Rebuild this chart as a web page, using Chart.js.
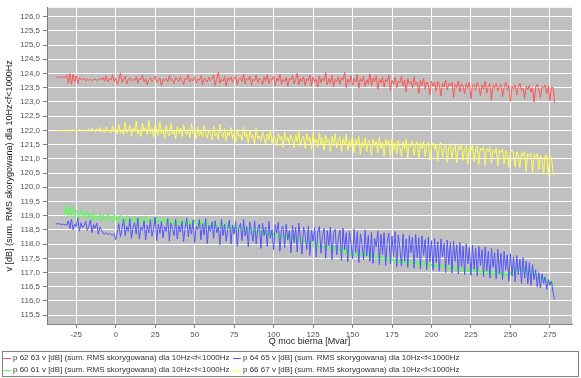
<!DOCTYPE html>
<html>
<head>
    <title>Q moc bierna</title>
    <script src="https://cdn.jsdelivr.net/npm/chart.js"></script>
    <style>
        body { margin: 0; background: #ffffff; }
    </style>
</head>
<body>
    <canvas id="Chart" width="581" height="378"></canvas>
    <script>
        // Q moc bierna [Mvar] - wspolna os X dla wszystkich serii
        const xQ = [
            -38, -37, -36, -35, -34, -33, -32, -31, -30, -29,
            -28, -27, -26, -25, -24, -23, -22, -21, -20, -19,
            -18, -17, -16, -15, -14, -13, -12, -11, -10, -9,
            -8, -7, -6, -5, -4, -3, -2, -1, 0, 1,
            2, 3, 4, 5, 6, 7, 8, 9, 10, 11,
            12, 13, 14, 15, 16, 17, 18, 19, 20, 21,
            22, 23, 24, 25, 26, 27, 28, 29, 30, 31,
            32, 33, 34, 35, 36, 37, 38, 39, 40, 41,
            42, 43, 44, 45, 46, 47, 48, 49, 50, 51,
            52, 53, 54, 55, 56, 57, 58, 59, 60, 61,
            62, 63, 64, 65, 66, 67, 68, 69, 70, 71,
            72, 73, 74, 75, 76, 77, 78, 79, 80, 81,
            82, 83, 84, 85, 86, 87, 88, 89, 90, 91,
            92, 93, 94, 95, 96, 97, 98, 99, 100, 101,
            102, 103, 104, 105, 106, 107, 108, 109, 110, 111,
            112, 113, 114, 115, 116, 117, 118, 119, 120, 121,
            122, 123, 124, 125, 126, 127, 128, 129, 130, 131,
            132, 133, 134, 135, 136, 137, 138, 139, 140, 141,
            142, 143, 144, 145, 146, 147, 148, 149, 150, 151,
            152, 153, 154, 155, 156, 157, 158, 159, 160, 161,
            162, 163, 164, 165, 166, 167, 168, 169, 170, 171,
            172, 173, 174, 175, 176, 177, 178, 179, 180, 181,
            182, 183, 184, 185, 186, 187, 188, 189, 190, 191,
            192, 193, 194, 195, 196, 197, 198, 199, 200, 201,
            202, 203, 204, 205, 206, 207, 208, 209, 210, 211,
            212, 213, 214, 215, 216, 217, 218, 219, 220, 221,
            222, 223, 224, 225, 226, 227, 228, 229, 230, 231,
            232, 233, 234, 235, 236, 237, 238, 239, 240, 241,
            242, 243, 244, 245, 246, 247, 248, 249, 250, 251,
            252, 253, 254, 255, 256, 257, 258, 259, 260, 261,
            262, 263, 264, 265, 266, 267, 268, 269, 270, 271,
            272, 273, 274, 275, 276, 277, 278
        ];

        // p 62 63
        const vRed = [
            123.87, 123.87, 123.87, 123.87, 123.88, 123.87, 123.86, 123.95, 123.66, 124.00,
            123.62, 123.97, 123.70, 123.92, 123.64, 123.86, 123.80, 123.77, 123.83, 123.74,
            123.79, 123.76, 123.80, 123.75, 123.78, 123.80, 123.76, 123.79, 123.83, 123.77,
            123.86, 123.73, 123.92, 123.70, 123.81, 123.77, 123.96, 123.71, 123.83, 123.62,
            123.76, 124.02, 123.69, 123.81, 123.90, 123.63, 123.79, 123.86, 123.73, 123.80,
            123.74, 123.88, 123.66, 123.83, 123.78, 123.95, 123.70, 123.82, 123.60, 123.79,
            123.85, 123.72, 123.80, 123.91, 123.68, 123.77, 123.84, 123.58, 123.80, 123.74,
            123.82, 123.70, 123.93, 123.75, 123.79, 123.65, 123.86, 123.78, 123.72, 123.88,
            123.76, 123.62, 123.84, 123.79, 123.97, 123.70, 123.81, 123.74, 123.89, 123.66,
            123.80, 123.76, 123.92, 123.60, 123.83, 123.78, 123.70, 123.87, 123.74, 123.81,
            123.95, 123.58, 123.82, 124.04, 123.66, 123.80, 123.73, 123.90, 123.55, 123.84,
            123.76, 123.88, 123.69, 123.81, 123.93, 123.62, 123.79, 123.85, 123.71, 123.98,
            123.64, 123.83, 123.77, 123.90, 123.58, 123.80, 123.74, 123.94, 123.67, 123.82,
            123.78, 123.60, 123.88, 123.72, 123.96, 123.65, 123.81, 123.76, 123.90, 123.57,
            123.84, 123.73, 123.98, 123.62, 123.80, 123.70, 123.87, 123.55, 123.82, 123.77,
            123.92, 123.64, 123.79, 124.01, 123.60, 123.83, 123.72, 123.89, 123.58, 123.81,
            123.75, 123.94, 123.56, 123.86, 123.70, 123.80, 123.52, 123.91, 123.68, 123.84,
            123.74, 124.03, 123.60, 123.82, 123.66, 123.93, 123.54, 123.79, 123.71, 123.88,
            123.62, 123.85, 123.76, 124.05, 123.50, 123.80, 123.68, 123.92, 123.58, 123.83,
            123.70, 123.96, 123.48, 123.81, 123.73, 123.90, 123.55, 123.78, 123.64, 123.99,
            123.57, 123.84, 123.70, 123.92, 123.45, 123.79, 123.66, 123.88, 123.52, 123.80,
            123.72, 123.94, 123.40, 123.76, 123.62, 123.86, 123.50, 123.74, 123.68, 123.90,
            123.55, 123.78, 123.35, 123.82, 123.64, 123.72, 123.48, 123.88, 123.60, 123.70,
            123.30, 123.76, 123.58, 123.84, 123.45, 123.70, 123.62, 123.25, 123.74, 123.55,
            123.68, 123.38, 123.72, 123.60, 123.20, 123.66, 123.52, 123.78, 123.42, 123.65,
            123.58, 123.70, 123.15, 123.62, 123.50, 123.74, 123.35, 123.64, 123.55, 123.28,
            123.66, 123.48, 123.70, 123.10, 123.58, 123.62, 123.40, 123.68, 123.52, 123.22,
            123.60, 123.45, 123.72, 123.30, 123.56, 123.64, 123.05, 123.58, 123.48, 123.66,
            123.38, 123.55, 123.62, 123.18, 123.50, 123.70, 123.42, 123.58, 123.02, 123.54,
            123.46, 123.60, 123.25, 123.52, 123.66, 123.40, 123.48, 123.12, 123.56, 123.44,
            123.58, 123.35, 123.50, 123.00, 123.52, 123.62, 123.45, 123.15, 123.55, 123.48,
            123.60, 123.30, 123.55, 123.05, 123.52, 123.50, 122.95
        ];

        // p 64 65
        const vBlue = [
            118.72, 118.71, 118.72, 118.70, 118.69, 118.70, 118.68, 118.66, 118.82, 118.55,
            118.88, 118.50, 118.70, 118.62, 118.92, 118.45, 118.75, 118.58, 118.66, 118.80,
            118.48, 118.62, 118.85, 118.40, 118.68, 118.55, 118.74, 118.35, 118.60, 118.50,
            118.38, 118.36, 118.40, 118.35, 118.37, 118.34, 118.32, 118.36, 118.15, 118.40,
            118.72, 118.25, 118.55, 118.88, 118.30, 118.62, 118.45, 118.90, 118.20, 118.58,
            118.75, 118.35, 118.92, 118.18, 118.60, 118.48, 118.82, 118.15, 118.66, 118.40,
            118.86, 118.28, 118.55, 118.95, 118.12, 118.70, 118.38, 118.80, 118.22, 118.62,
            118.45, 118.90, 118.10, 118.74, 118.52, 118.30, 118.88, 118.18, 118.65, 118.42,
            118.80, 118.08, 118.58, 118.92, 118.25, 118.70, 118.35, 118.84, 118.05, 118.62,
            118.50, 118.86, 118.15, 118.72, 118.32, 118.90, 118.02, 118.66, 118.45, 118.78,
            118.20, 118.82, 118.40, 118.60, 117.98, 118.88, 118.30, 118.70, 118.10, 118.55,
            118.84, 118.00, 118.66, 118.35, 118.80, 117.95, 118.58, 118.72, 118.12, 118.86,
            118.28, 118.62, 117.90, 118.78, 118.44, 118.10, 118.82, 118.00, 118.56, 118.70,
            117.85, 118.74, 118.30, 118.60, 117.92, 118.80, 118.20, 118.52, 117.80, 118.68,
            118.40, 118.76, 117.75, 118.55, 118.62, 117.88, 118.70, 118.15, 118.48, 117.70,
            118.66, 118.05, 118.58, 117.72, 118.74, 118.22, 117.65, 118.60, 118.35, 117.80,
            118.64, 117.60, 118.50, 118.10, 118.58, 117.55, 118.42, 118.62, 117.68, 118.30,
            118.55, 117.50, 118.48, 117.95, 118.60, 117.45, 118.38, 118.52, 117.62, 118.20,
            118.50, 117.42, 118.56, 117.80, 118.40, 117.38, 118.46, 118.05, 117.48, 118.52,
            117.70, 118.44, 117.35, 118.36, 118.00, 117.45, 118.50, 117.58, 118.30, 117.40,
            118.42, 117.32, 118.20, 117.90, 118.46, 117.28, 118.34, 117.62, 118.40, 117.25,
            118.10, 118.38, 117.30, 118.28, 117.55, 118.44, 117.20, 118.32, 117.85, 117.22,
            118.36, 117.40, 118.18, 117.18, 118.30, 117.70, 118.25, 117.15, 118.34, 117.50,
            118.22, 117.12, 118.28, 117.60, 118.16, 117.10, 118.24, 117.38, 118.12, 117.08,
            118.20, 117.35, 118.08, 117.05, 118.18, 117.55, 118.02, 117.00, 118.14, 117.28,
            118.05, 116.98, 118.10, 117.40, 117.98, 116.95, 118.06, 117.20, 117.92, 116.92,
            118.00, 117.30, 117.88, 116.90, 117.96, 117.12, 117.85, 116.88, 117.92, 117.25,
            117.80, 116.85, 117.90, 117.05, 117.76, 116.80, 117.86, 117.18, 117.70, 116.78,
            117.82, 116.95, 117.68, 116.75, 117.74, 117.10, 117.62, 116.70, 117.66, 116.88,
            117.55, 116.68, 117.60, 116.92, 117.48, 116.62, 117.52, 116.80, 117.40, 116.60,
            117.35, 116.55, 117.28, 116.75, 117.10, 116.50, 117.00, 116.45, 116.95, 116.62,
            116.85, 116.40, 116.75, 116.55, 116.70, 116.30, 116.05
        ];

        // p 60 61
        const vGreen = [
            null, null, null, null, null, 119.30, 119.05, 119.40, 118.95, 119.25,
            119.00, 119.32, 118.92, 119.18, 119.05, 118.88, 119.22, 118.98, 119.10, 118.85,
            119.15, 118.95, 119.05, 118.82, 119.12, 118.90, 119.00, 118.86, 119.08, 118.80,
            119.02, 118.90, 118.78, 119.06, 118.88, 118.98, 118.75, 119.04, 118.85, 118.95,
            118.76, 119.02, 118.84, 118.92, 118.72, 119.00, 118.86, 118.78, 118.96, 118.74,
            118.98, 118.82, 118.90, 118.70, 118.96, 118.84, 118.76, 119.00, 118.72, 118.88,
            118.80, 118.94, 118.70, 118.86, 118.98, 118.74, 118.90, 118.68, 118.92, 118.78,
            118.88, 118.66, 118.94, 118.76, 118.84, 118.64, 118.90, 118.74, 118.82, 118.62,
            118.92, 118.72, 118.80, 118.60, 118.88, 118.70, 118.78, 118.58, 118.86, 118.68,
            118.76, 118.56, 118.84, 118.66, 118.72, 118.54, 118.82, 118.62, 118.70, 118.52,
            118.80, 118.60, 118.68, 118.50, 118.76, 118.58, 118.66, 118.48, 118.74, 118.55,
            118.64, 118.46, 118.70, 118.52, 118.60, 118.42, 118.68, 118.50, 118.56, 118.40,
            118.64, 118.46, 118.54, 118.36, 118.60, 118.44, 118.50, 118.32, 118.56, 118.40,
            118.46, 118.28, 118.52, 118.36, 118.42, 118.24, 118.48, 118.32, 118.38, 118.20,
            118.42, 118.26, 118.34, 118.16, 118.38, 118.22, 118.30, 118.12, 118.34, 118.18,
            118.26, 118.08, 118.30, 118.12, 118.20, 118.02, 118.24, 118.06, 118.14, 117.96,
            118.18, 118.00, 118.08, 117.90, 118.12, 117.94, 118.02, 117.84, 118.06, 117.88,
            117.96, 117.78, 118.00, 117.82, 117.92, 117.74, 117.94, 117.76, 117.86, 117.70,
            117.90, 117.72, 117.82, 117.64, 117.86, 117.68, 117.76, 117.60, 117.80, 117.62,
            117.72, 117.56, 117.76, 117.58, 117.68, 117.52, 117.70, 117.54, 117.64, 117.48,
            117.66, 117.50, 117.60, 117.44, 117.62, 117.46, 117.56, 117.42, 117.58, 117.40,
            117.54, 117.38, 117.56, 117.40, 117.50, 117.36, 117.52, 117.34, 117.46, 117.32,
            117.48, 117.32, 117.44, 117.30, 117.46, 117.28, 117.40, 117.26, 117.42, 117.24,
            117.38, 117.22, 117.40, 117.24, 117.34, 117.20, 117.36, 117.18, 117.30, 117.16,
            117.32, 117.16, 117.28, 117.12, 117.30, 117.14, 117.24, 117.10, 117.26, 117.08,
            117.22, 117.08, 117.24, 117.06, 117.18, 117.04, 117.20, 117.02, 117.16, 117.00,
            117.18, 117.02, 117.14, 116.98, 117.16, 117.00, 117.10, 116.96, 117.12, 116.94,
            117.08, 116.94, 117.10, 116.92, 117.06, 116.90, 117.08, 116.92, 117.04, 116.88,
            117.06, 116.90, 117.02, 116.88, 117.05, 116.86, 117.00, 116.84, 117.02, 116.86,
            117.10, 116.92, 117.22, 116.96, 117.28, 117.00, 117.24, 116.94, 117.18, 116.90,
            117.14, 116.88, 117.06, 116.84, 117.00, 116.80, 116.94, 116.76, 116.90, 116.72,
            116.86, 116.68, 116.80, 116.62, 116.70, 116.58, 116.50
        ];

        // p 66 67
        const vYellow = [
            121.98, 122.00, 121.99, 122.01, 121.98, 122.00, 122.02, 121.99, 122.01, 121.97,
            122.00, 122.03, 121.98, 122.01, 121.99, 122.04, 121.97, 122.00, 122.02, 121.98,
            122.00, 122.05, 121.96, 122.08, 121.99, 121.95, 122.06, 121.98, 122.10, 121.94,
            122.04, 121.92, 122.12, 121.96, 122.02, 121.90, 122.15, 121.95, 122.05, 121.88,
            122.20, 121.90, 122.05, 121.85, 122.28, 121.92, 122.00, 122.18, 121.80, 122.08,
            121.94, 122.32, 121.86, 122.02, 121.78, 122.25, 121.96, 122.10, 121.84, 122.35,
            121.90, 122.06, 121.75, 122.22, 121.98, 121.82, 122.30, 121.88, 122.04, 121.72,
            122.18, 121.92, 121.80, 122.26, 121.86, 122.00, 121.70, 122.14, 121.90, 122.08,
            121.78, 122.20, 121.95, 121.84, 122.05, 121.74, 122.24, 121.88, 121.96, 121.70,
            122.12, 121.82, 121.98, 121.76, 122.18, 121.85, 121.72, 122.02, 121.88, 121.66,
            122.15, 121.80, 121.92, 121.68, 122.22, 121.84, 121.75, 122.06, 121.62, 121.95,
            121.82, 122.10, 121.70, 121.90, 121.58, 122.04, 121.78, 121.86, 121.64, 122.12,
            121.76, 121.92, 121.55, 122.00, 121.72, 121.84, 121.50, 122.08, 121.70, 121.80,
            121.62, 121.96, 121.74, 121.48, 121.88, 121.66, 122.02, 121.55, 121.82, 121.70,
            121.45, 121.90, 121.68, 121.80, 121.40, 121.94, 121.62, 121.76, 121.52, 121.86,
            121.66, 121.38, 121.84, 121.58, 121.98, 121.44, 121.72, 121.80, 121.35, 121.90,
            121.60, 121.76, 121.32, 121.88, 121.55, 121.70, 121.40, 121.92, 121.48, 121.74,
            121.30, 121.84, 121.56, 121.68, 121.25, 121.80, 121.45, 121.88, 121.38, 121.66,
            121.78, 121.22, 121.70, 121.50, 121.86, 121.28, 121.64, 121.42, 121.82, 121.20,
            121.68, 121.48, 121.78, 121.15, 121.60, 121.40, 121.74, 121.25, 121.66, 121.52,
            121.12, 121.70, 121.44, 121.62, 121.20, 121.76, 121.36, 121.58, 121.10, 121.68,
            121.46, 121.64, 121.05, 121.72, 121.30, 121.56, 121.18, 121.66, 121.40, 121.08,
            121.60, 121.34, 121.68, 121.02, 121.54, 121.42, 121.64, 121.12, 121.50, 121.60,
            121.00, 121.56, 121.36, 121.62, 121.08, 121.48, 121.58, 120.95, 121.44, 121.55,
            121.30, 121.52, 120.92, 121.46, 121.58, 121.05, 121.40, 121.50, 120.88, 121.42,
            121.54, 121.00, 121.38, 121.48, 120.85, 121.44, 121.32, 121.52, 120.95, 121.36,
            121.46, 120.82, 121.40, 121.28, 121.50, 120.90, 121.34, 121.44, 120.80, 121.38,
            121.30, 121.42, 120.78, 121.36, 121.25, 121.40, 120.85, 121.32, 121.20, 121.38,
            120.75, 121.30, 121.22, 121.35, 120.82, 121.28, 121.18, 120.70, 121.26, 121.30,
            121.15, 120.72, 121.24, 121.12, 120.68, 121.22, 121.10, 121.25, 120.55, 121.18,
            121.08, 121.20, 120.48, 121.15, 121.05, 121.18, 120.60, 121.12, 121.02, 120.45,
            121.10, 121.14, 120.42, 121.08, 121.05, 120.50, 120.42
        ];

        const xTicks = [-25, 0, 25, 50, 75, 100, 125, 150, 175, 200, 225, 250, 275];
        const yTicks = [115.5, 116.0, 116.5, 117.0, 117.5, 118.0, 118.5, 119.0, 119.5,
                        120.0, 120.5, 121.0, 121.5, 122.0, 122.5, 123.0, 123.5, 124.0,
                        124.5, 125.0, 125.5, 126.0];

        const seriesNames = [
            'p 62 63 v [dB] (sum. RMS skorygowana) dla 10Hz<f<1000Hz',
            'p 64 65 v [dB] (sum. RMS skorygowana) dla 10Hz<f<1000Hz',
            'p 60 61 v [dB] (sum. RMS skorygowana) dla 10Hz<f<1000Hz',
            'p 66 67 v [dB] (sum. RMS skorygowana) dla 10Hz<f<1000Hz'
        ];
        const seriesColors = ['#ff5555', '#5555ff', '#55ff55', '#ffff55'];
        const seriesValues = [vRed, vBlue, vGreen, vYellow];

        const xTitle = 'Q moc bierna [Mvar]';
        const yTitle = 'v [dB] (sum. RMS skorygowana) dla 10Hz<f<1000Hz';

        // szare tlo wykresu
        const plotBg = {
            id: 'plotBg',
            beforeDraw(chart) {
                const a = chart.chartArea;
                const c = chart.ctx;
                c.save();
                c.fillStyle = '#c0c0c0';
                c.fillRect(a.left, a.top, a.right - a.left, a.bottom - a.top);
                c.restore();
            }
        };

        // tytuly osi i legenda w ramce (jak w JFreeChart)
        const titlesAndLegend = {
            id: 'titlesAndLegend',
            afterDraw(chart) {
                const a = chart.chartArea;
                const c = chart.ctx;
                c.save();
                c.fillStyle = '#222';
                c.font = '9px "Liberation Sans"';
                c.textAlign = 'center';
                c.textBaseline = 'middle';
                c.fillText(xTitle, (a.left + a.right) / 2, 342);
                c.translate(10, (a.top + a.bottom) / 2);
                c.rotate(-Math.PI / 2);
                c.fillText(yTitle, 0, 0);
                c.restore();

                c.save();
                c.strokeStyle = '#808080';
                c.lineWidth = 1;
                c.strokeRect(2.5, 351.5, 576, 25);
                c.font = '8px "Liberation Sans"';
                c.textBaseline = 'middle';
                c.textAlign = 'left';
                const cols = [3, 233];
                const rows = [358, 370];
                seriesNames.forEach((name, i) => {
                    const x = cols[i % 2];
                    const y = rows[Math.floor(i / 2)];
                    c.strokeStyle = seriesColors[i];
                    c.beginPath();
                    c.moveTo(x, y + 0.5);
                    c.lineTo(x + 8, y + 0.5);
                    c.stroke();
                    c.fillStyle = '#333';
                    c.fillText(name, x + 10, y);
                });
                c.restore();
            }
        };

        const ctx = document.getElementById('Chart').getContext('2d');
        const chart = new Chart(ctx, {
            type: 'line',
            data: {
                datasets: seriesValues.map((vals, i) => ({
                    label: seriesNames[i],
                    data: xQ.map((x, j) => ({ x: x, y: vals[j] })),
                    borderColor: seriesColors[i],
                    borderWidth: 1,
                    pointRadius: 0,
                    fill: false,
                    tension: 0
                }))
            },
            options: {
                responsive: false,
                animation: false,
                layout: { padding: { left: 0, top: 5, right: 9, bottom: 34 } },
                plugins: {
                    legend: { display: false },
                    tooltip: { enabled: false }
                },
                scales: {
                    x: {
                        type: 'linear',
                        min: -43.5,
                        max: 289,
                        afterBuildTicks: (s) => { s.ticks = xTicks.map(v => ({ value: v })); },
                        afterFit: (s) => { s.height = 20; },
                        grid: { color: '#ffffff', tickColor: '#808080', tickLength: 4 },
                        border: { color: '#808080' },
                        ticks: {
                            color: '#555',
                            font: { family: 'Liberation Sans', size: 8 },
                            padding: 2,
                            maxRotation: 0
                        }
                    },
                    y: {
                        type: 'linear',
                        min: 115.19,
                        max: 126.31,
                        afterBuildTicks: (s) => { s.ticks = yTicks.map(v => ({ value: v })); },
                        afterFit: (s) => { s.width = 47; },
                        grid: { color: '#ffffff', tickColor: '#808080', tickLength: 4 },
                        border: { color: '#808080' },
                        ticks: {
                            color: '#555',
                            font: { family: 'Liberation Sans', size: 8 },
                            padding: 3,
                            callback: (v) => v.toFixed(1).replace('.', ',')
                        }
                    }
                }
            },
            plugins: [plotBg, titlesAndLegend]
        });
    </script>
</body>
</html>
